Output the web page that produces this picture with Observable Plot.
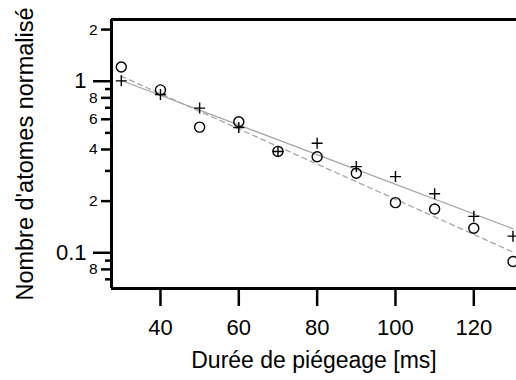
<!DOCTYPE html>
<html>
<head>
<meta charset="utf-8">
<script src="https://cdn.jsdelivr.net/npm/d3@7"></script>
<script src="https://cdn.jsdelivr.net/npm/@observablehq/plot@0.6"></script>
<style>
  html, body { margin: 0; padding: 0; background: white; }
</style>
</head>
<body>
<div id="chart"></div>
<script>
// Trapping duration (ms)
const durations = [30, 40, 50, 60, 70, 80, 90, 100, 110, 120, 130];
// Normalised atom number, circle series
const circles = [1.21, 0.89, 0.54, 0.58, 0.39, 0.363, 0.291, 0.196, 0.18, 0.139, 0.089];
// Normalised atom number, cross series
const crosses = [1.005, 0.837, 0.697, 0.537, 0.389, 0.435, 0.318, 0.278, 0.221, 0.163, 0.125];
// Exponential fits (end points)
const fitX = [30, 130];
const fitCircles = [1.07, 0.101];
const fitCrosses = [1.01, 0.138];

// Axis ticks
const xTicks = [40, 60, 80, 100, 120];
const yMajorTicks = [1, 0.1];
const yMajorLabels = ["1", "0.1"];
const yMinorLabeledTicks = [2, 0.8, 0.6, 0.4, 0.2, 0.08];
const yMinorLabels = ["2", "8", "6", "4", "2", "8"];
const yMinorTicks = [0.9, 0.7, 0.5, 0.3, 0.09, 0.07];

const xDomain = [27.5, 130.9];
const yDomain = [0.0619, 2.29];

const points = durations.map((d, i) => ({ d, circle: circles[i], cross: crosses[i] }));
const fitData = fitX.map((d, i) => ({ d, circle: fitCircles[i], cross: fitCrosses[i] }));
const minorLabelData = yMinorLabeledTicks.map((v, i) => ({ v, label: yMinorLabels[i] }));
const majorLabelData = yMajorTicks.map((v, i) => ({ v, label: yMajorLabels[i] }));

const crossSymbol = {
  draw(ctx, size) {
    const r = Math.sqrt(size / Math.PI);
    ctx.moveTo(-r, 0); ctx.lineTo(r, 0);
    ctx.moveTo(0, -r); ctx.lineTo(0, r);
  }
};

const chart = Plot.plot({
  width: 516,
  height: 380,
  marginLeft: 111,
  marginRight: 0,
  marginTop: 19,
  marginBottom: 92,
  style: { fontFamily: "'Liberation Sans', Arial, Helvetica, sans-serif", background: "white", color: "black" },
  x: { domain: xDomain },
  y: { type: "log", domain: yDomain },
  marks: [
    // fits
    Plot.line(fitData, { x: "d", y: "cross", stroke: "#a6a6a6", strokeWidth: 1.3 }),
    Plot.line(fitData, { x: "d", y: "circle", stroke: "#a6a6a6", strokeWidth: 1.3, strokeDasharray: "5,4" }),
    // data
    Plot.dot(points, { x: "d", y: "circle", symbol: "circle", r: 5, stroke: "black", fill: "none", strokeWidth: 1.4 }),
    Plot.dot(points, { x: "d", y: "cross", symbol: crossSymbol, r: 5.5, stroke: "black", fill: "none", strokeWidth: 1.4 }),
    // frame
    Plot.ruleX([xDomain[0]], { stroke: "black", strokeWidth: 3 }),
    Plot.ruleY([yDomain[0]], { stroke: "black", strokeWidth: 3 }),
    Plot.ruleY([yDomain[1]], { stroke: "black", strokeWidth: 3 }),
    // x axis
    Plot.axisX({ ticks: xTicks, tickSize: 18, tickPadding: 13, strokeWidth: 2.5, fontSize: 22, label: null }),
    // y axis ticks
    Plot.axisY({ ticks: yMajorTicks, tickSize: 18, strokeWidth: 2.5, label: null, text: null }),
    Plot.axisY({ ticks: yMinorLabeledTicks, tickSize: 10, strokeWidth: 2.5, label: null, text: null }),
    Plot.axisY({ ticks: yMinorTicks, tickSize: 6, strokeWidth: 2.5, label: null, text: null }),
    // y axis labels
    Plot.text(majorLabelData, { y: "v", text: "label", frameAnchor: "left", textAnchor: "end", dx: -25, fontSize: 22 }),
    Plot.text(minorLabelData, { y: "v", text: "label", frameAnchor: "left", textAnchor: "end", dx: -14, fontSize: 15.5 }),
    // axis titles
    Plot.text(["Durée de piégeage [ms]"], { frameAnchor: "bottom", textAnchor: "middle", dy: 79, lineAnchor: "bottom", fontSize: 23 }),
    Plot.text(["Nombre d'atomes normalisé"], { frameAnchor: "left", textAnchor: "middle", dx: -79, rotate: -90, lineAnchor: "bottom", fontSize: 23.5 })
  ]
});
document.getElementById("chart").appendChild(chart);
</script>
</body>
</html>
